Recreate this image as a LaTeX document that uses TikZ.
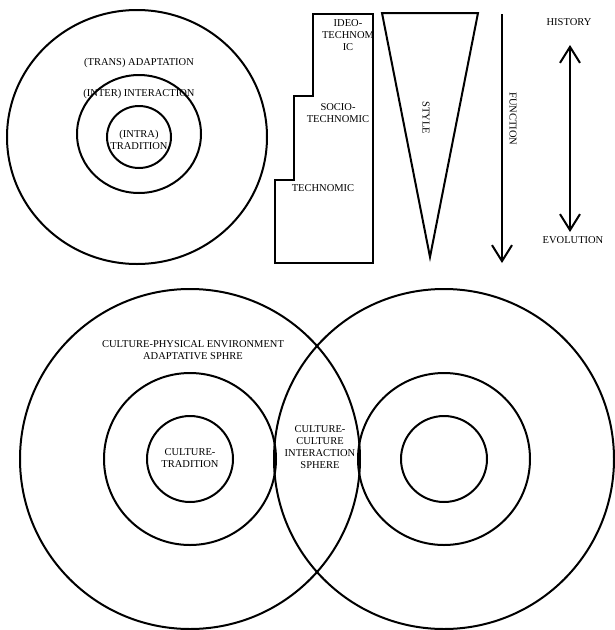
\documentclass[tikz,border=0pt]{standalone}
\usepackage{fontspec}
\setmainfont{Liberation Serif}
\usetikzlibrary{arrows.meta,positioning}

\begin{document}
\begin{tikzpicture}[x=1pt,y=-1pt,line width=2pt,
  lab/.style={font=\fontsize{10.5}{12}\selectfont,align=center,inner sep=0pt},
  barb/.style={-{Straight Barb[length=16pt,width=20pt]}},
  dbarb/.style={{Straight Barb[length=16pt,width=20pt]}-{Straight Barb[length=16pt,width=20pt]}}]
  \useasboundingbox (0,0) rectangle (614,630);
  % rings, top left
  \draw (137,137) ellipse [x radius=130, y radius=127];
  \draw (139,134) ellipse [x radius=62, y radius=59];
  \draw (139,137) ellipse [x radius=32, y radius=31];
  \node[lab] (trans) at (139,63) {(TRANS) ADAPTATION};
  \node[lab] (inter) at (139,94) {(INTER) INTERACTION};
  \node[lab] (intra) at (139,140) {(INTRA)\\TRADITION};
  % steps
  \draw (313,14) -- (373,14) -- (373,263) -- (275,263) -- (275,180)
    -- (294,180) -- (294,96) -- (313,96) -- cycle;
  \node[lab] (ideo) at (348,35) {IDEO-\\TECHNOM\\IC};
  \node[lab] (socio) at (338,113) {SOCIO-\\TECHNOMIC};
  \node[lab] (techno) at (323,188) {TECHNOMIC};
  % style wedge
  \draw (382,13) -- (478,13) -- (430,257) -- cycle;
  \node[lab,rotate=-90] (style) at (426,118) {STYLE};
  % function
  \coordinate (fTop) at (502,14);
  \coordinate (fBot) at (502,263);
  \draw[barb] (fTop) -- (fBot);
  \node[lab,rotate=-90] (func) at (513,119) {FUNCTION};
  % history / evolution
  \node[lab] (hist) at (569,22) {HISTORY};
  \node[lab] (evol) at (573,240) {EVOLUTION};
  \coordinate (hTop) at (570,45);
  \coordinate (hBot) at (570,232);
  \draw[dbarb] (hTop) -- (hBot);
  % two cultures
  \foreach \cx in {190,444}
    \foreach \r in {170,86,43}
      \draw (\cx,459) circle[radius=\r];
  \node[lab] (cpe) at (193,350) {CULTURE-PHYSICAL ENVIRONMENT\\ADAPTATIVE SPHRE};
  \node[lab] (ctrad) at (190,458) {CULTURE-\\TRADITION};
  \node[lab] (ccis) at (320,447) {CULTURE-\\CULTURE\\INTERACTION\\SPHERE};
\end{tikzpicture}
\end{document}
